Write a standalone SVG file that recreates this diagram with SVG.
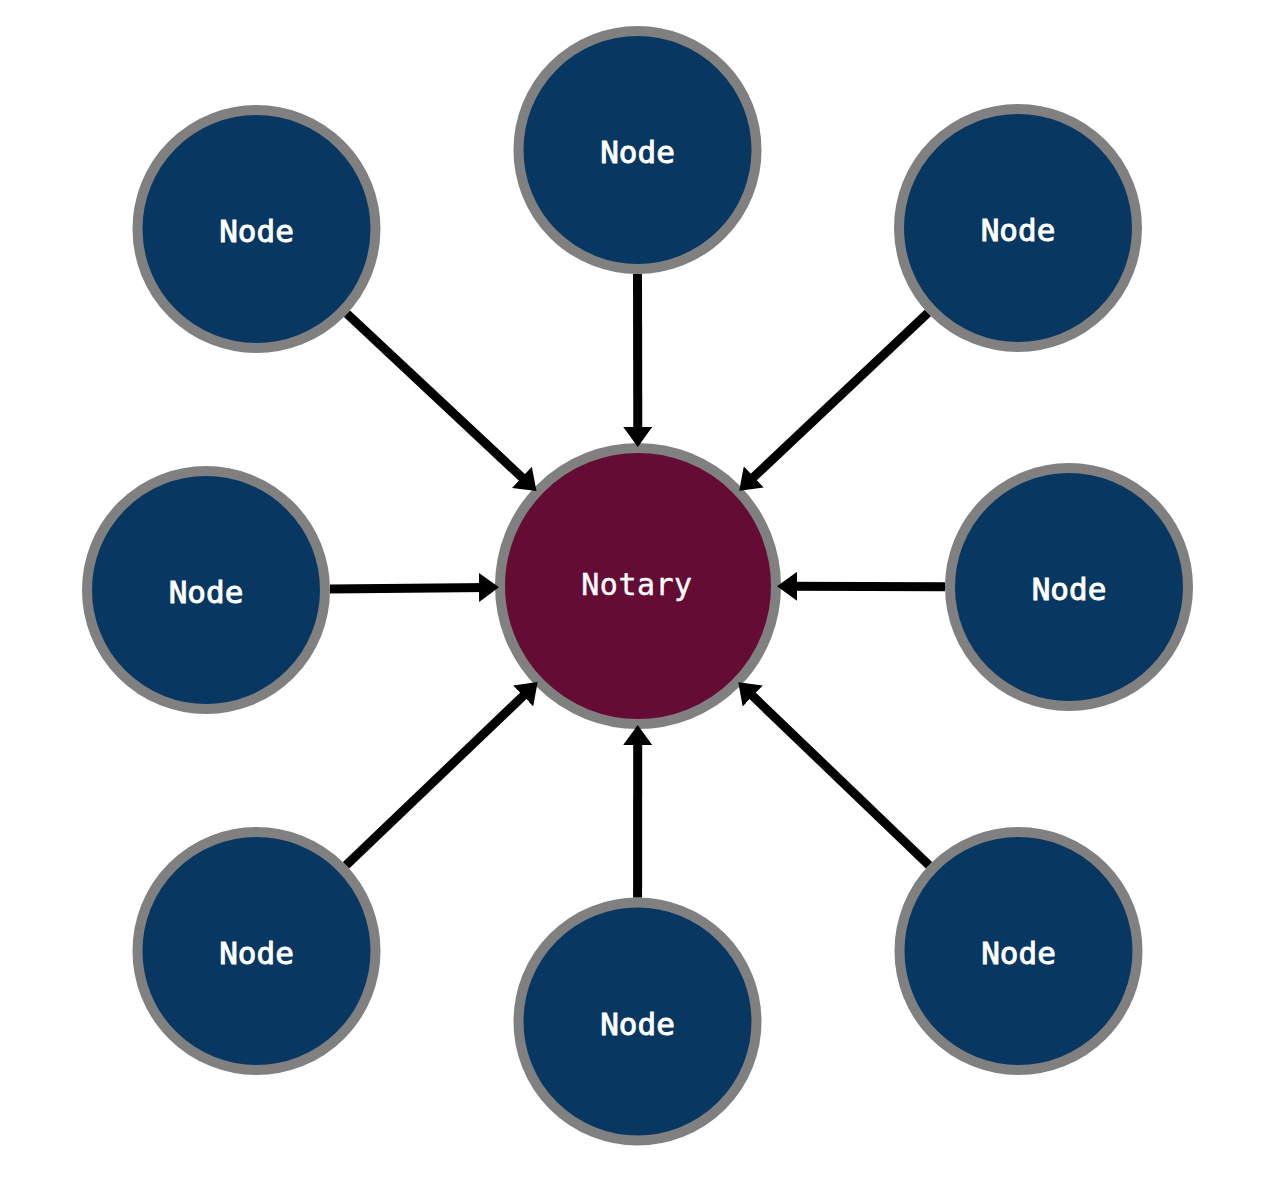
<svg xmlns="http://www.w3.org/2000/svg" width="1270" height="1181" viewBox="0 0 1270 1181">
  <style>
    .node circle { fill: #083862; stroke: #808080; stroke-width: 10; }
    .notary circle { fill: #640c34; stroke: #808080; stroke-width: 10; }
    .node text { fill: #ffffff; stroke: #ffffff; stroke-width: 0.9; font-family: "DejaVu Sans Mono", "Liberation Mono", monospace; font-size: 31px; text-anchor: middle; }
    .notary text { fill: #ffffff; stroke: #ffffff; stroke-width: 0.4; font-family: "DejaVu Sans Mono", "Liberation Mono", monospace; font-size: 30px; text-anchor: middle; letter-spacing: 0.5px; }
    .edge { stroke: #000000; stroke-width: 9; fill: none; marker-end: url(#arrow); }
  </style>
  <defs>
    <marker id="arrow" markerUnits="userSpaceOnUse" markerWidth="20" markerHeight="29" refX="10" refY="14.5" orient="auto" viewBox="0 0 20 29">
      <path d="M0,0 L20,14.5 L0,29 Z" fill="#000000"/>
    </marker>
  </defs>
  <rect width="1270" height="1181" fill="#ffffff"/>

  <g id="notary" class="notary">
    <circle cx="638" cy="586" r="138"/>
    <text x="637" y="595">Notary</text>
  </g>
  <g id="node-top" class="node">
    <circle cx="637.5" cy="150" r="119"/>
    <text x="637.5" y="163">Node</text>
  </g>
  <g id="node-top-left" class="node">
    <circle cx="256.5" cy="229" r="119"/>
    <text x="256.5" y="242">Node</text>
  </g>
  <g id="node-top-right" class="node">
    <circle cx="1018" cy="228" r="119"/>
    <text x="1018" y="241">Node</text>
  </g>
  <g id="node-left" class="node">
    <circle cx="206" cy="590" r="119"/>
    <text x="206" y="603">Node</text>
  </g>
  <g id="node-right" class="node">
    <circle cx="1069" cy="587" r="119"/>
    <text x="1069" y="600">Node</text>
  </g>
  <g id="node-bottom-left" class="node">
    <circle cx="256.5" cy="951" r="119"/>
    <text x="256.5" y="964">Node</text>
  </g>
  <g id="node-bottom" class="node">
    <circle cx="637.5" cy="1021.5" r="119"/>
    <text x="637.5" y="1034.5">Node</text>
  </g>
  <g id="node-bottom-right" class="node">
    <circle cx="1018.5" cy="951" r="119"/>
    <text x="1018.5" y="964">Node</text>
  </g>

  <g id="connectors">
    <line class="edge" x1="637.5" y1="274" x2="637.8" y2="437"/>
    <line class="edge" x1="347" y1="313.7" x2="529.2" y2="484.2"/>
    <line class="edge" x1="927.8" y1="313" x2="746.5" y2="483.8"/>
    <line class="edge" x1="330" y1="588.9" x2="489" y2="587.4"/>
    <line class="edge" x1="945" y1="586.7" x2="787" y2="586.3"/>
    <line class="edge" x1="346.1" y1="865.3" x2="530.4" y2="689"/>
    <line class="edge" x1="637.6" y1="897.5" x2="637.7" y2="735"/>
    <line class="edge" x1="929" y1="865.2" x2="745.5" y2="689.1"/>
  </g>
</svg>
